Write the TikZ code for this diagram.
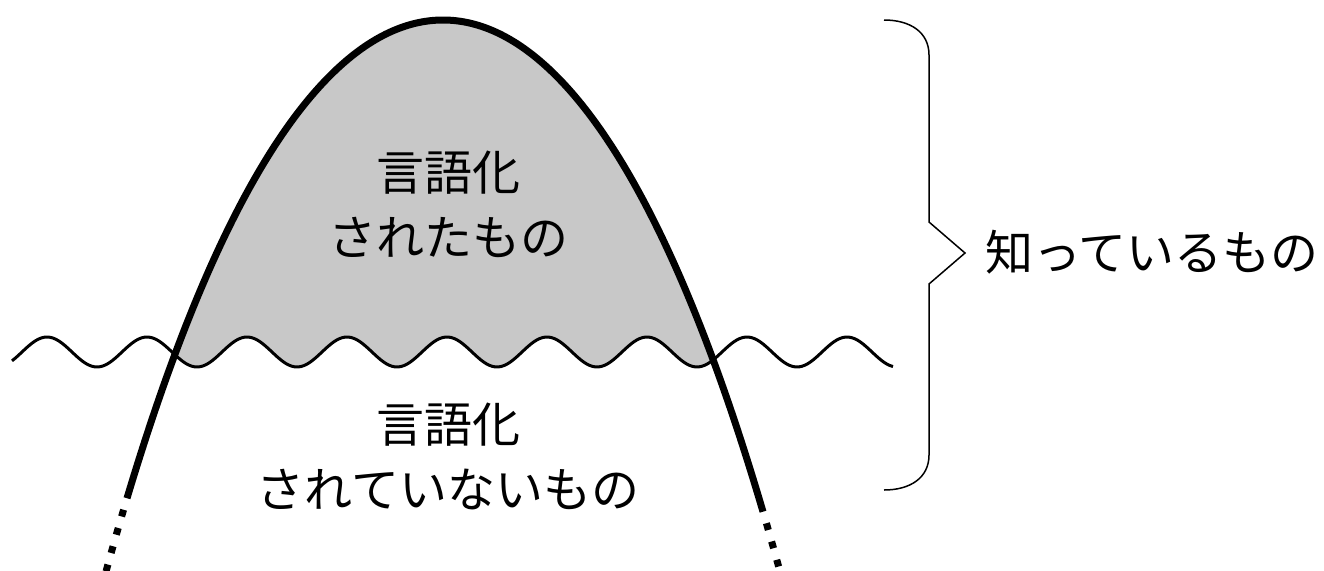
\documentclass[tikz,border=0pt]{standalone}
\usepackage{fontspec}
\newfontfamily\jp{Noto Sans CJK JP}
\definecolor{hill}{RGB}{200,200,200}
\begin{document}
\begin{tikzpicture}[x=1pt,y=-1pt,
  lbl/.style={font=\jp\fontsize{48}{65}\selectfont, align=center, inner sep=0pt},
  hillline/.style={line width=7pt},
  hilldots/.style={line width=7pt, dash pattern=on 7pt off 12pt, dash phase=7pt},
  waveline/.style={line width=3pt, line join=round},
  braceline/.style={line width=1.5pt, line join=miter}]
\useasboundingbox (0,0) rectangle (1324,570);
\begin{scope}
\clip (0,0) rectangle (1324,570);
% grey fill above the waterline, inside the hill
\begin{scope}
\clip plot[domain=-318:322, samples=200] ({443+\x},{20+43*(\x/100)*(\x/100)+0.49*(\x/100)*(\x/100)*(\x/100)*(\x/100)}) -- cycle;
\fill[hill] (0,0) -- plot[domain=0:900, samples=300, smooth] (\x,{352-15*cos(3.6*(\x-47))}) -- (900,0) -- cycle;
\end{scope}
% waterline
\draw[waveline] plot[domain=12:893, samples=300, smooth] (\x,{352-15*cos(3.6*(\x-47))});
% hill outline
\draw[hillline] plot[domain=-316:320, samples=200] ({443+\x},{20+43*(\x/100)*(\x/100)+0.49*(\x/100)*(\x/100)*(\x/100)*(\x/100)});
\draw[hilldots] plot[domain=-316:-350, samples=40] ({443+\x},{20+43*(\x/100)*(\x/100)+0.49*(\x/100)*(\x/100)*(\x/100)*(\x/100)});
\draw[hilldots] plot[domain=320:352, samples=40] ({443+\x},{20+43*(\x/100)*(\x/100)+0.49*(\x/100)*(\x/100)*(\x/100)*(\x/100)});
\end{scope}
% labels
\node[lbl] (upper) at (448,204) {言語化\\されたもの};
\node[lbl] (lower) at (448,456) {言語化\\されていないもの};
\node[lbl, anchor=west] (known) at (985,252) {知っているもの};
% brace
\coordinate (btip) at (965,253);
\draw[braceline] (884,20) .. controls (910,20) and (929,32) .. (929,55) -- (929,222) -- (btip) -- (929,284) -- (929,455) .. controls (929,478) and (910,490) .. (884,490);
\end{tikzpicture}
\end{document}
